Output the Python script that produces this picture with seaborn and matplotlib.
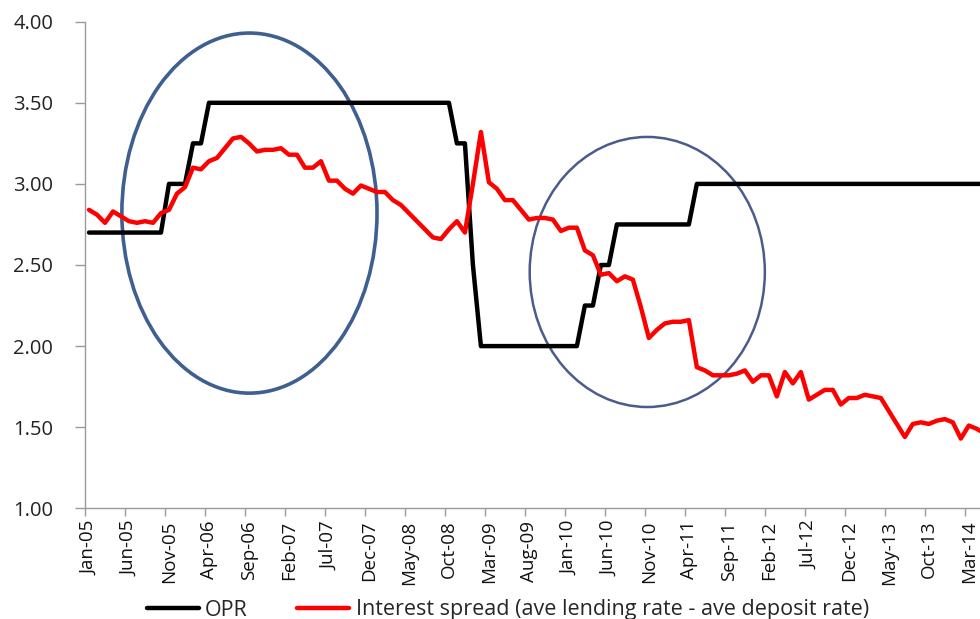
import numpy as np
import pandas as pd
import matplotlib
matplotlib.use('agg')
import matplotlib.pyplot as plt
from matplotlib.patches import Ellipse
import seaborn as sns

sns.set_style('white')
plt.rcParams['font.family'] = ['Open Sans', 'DejaVu Sans']

# monthly, Jan-05 .. May-14
months = pd.date_range('2005-01-01', '2014-05-01', freq='MS')

opr = [2.70, 2.70, 2.70, 2.70, 2.70, 2.70, 2.70, 2.70, 2.70, 2.70,
       3.00, 3.00, 3.00, 3.25, 3.25,
       3.50, 3.50, 3.50, 3.50, 3.50, 3.50, 3.50, 3.50, 3.50, 3.50,
       3.50, 3.50, 3.50, 3.50, 3.50, 3.50, 3.50, 3.50, 3.50, 3.50,
       3.50, 3.50, 3.50, 3.50, 3.50, 3.50, 3.50, 3.50, 3.50, 3.50, 3.50,
       3.25, 3.25, 2.50,
       2.00, 2.00, 2.00, 2.00, 2.00, 2.00, 2.00, 2.00, 2.00, 2.00, 2.00, 2.00, 2.00,
       2.25, 2.25, 2.50, 2.50,
       2.75, 2.75, 2.75, 2.75, 2.75, 2.75, 2.75, 2.75, 2.75, 2.75,
       3.00, 3.00, 3.00, 3.00, 3.00, 3.00, 3.00, 3.00, 3.00, 3.00,
       3.00, 3.00, 3.00, 3.00, 3.00, 3.00, 3.00, 3.00, 3.00, 3.00,
       3.00, 3.00, 3.00, 3.00, 3.00, 3.00, 3.00, 3.00, 3.00, 3.00,
       3.00, 3.00, 3.00, 3.00, 3.00, 3.00, 3.00]

spread = [2.84, 2.81, 2.76, 2.83, 2.80, 2.77, 2.76, 2.77, 2.76, 2.82,
          2.84, 2.94, 2.98, 3.10, 3.09, 3.14, 3.16, 3.22, 3.28, 3.29,
          3.25, 3.20, 3.21, 3.21, 3.22, 3.18, 3.18, 3.10, 3.10, 3.14,
          3.02, 3.02, 2.97, 2.94, 2.99, 2.97, 2.95, 2.95, 2.90, 2.87,
          2.82, 2.77, 2.72, 2.67, 2.66, 2.72, 2.77, 2.70, 3.00, 3.32,
          3.01, 2.97, 2.90, 2.90, 2.84, 2.78, 2.79, 2.79, 2.78, 2.71,
          2.73, 2.73, 2.59, 2.56, 2.44, 2.45, 2.40, 2.43, 2.41, 2.24,
          2.05, 2.10, 2.14, 2.15, 2.15, 2.16, 1.87, 1.85, 1.82, 1.82,
          1.82, 1.83, 1.85, 1.78, 1.82, 1.82, 1.69, 1.84, 1.77, 1.84,
          1.67, 1.70, 1.73, 1.73, 1.64, 1.68, 1.68, 1.70, 1.69, 1.68,
          1.60, 1.52, 1.44, 1.52, 1.53, 1.52, 1.54, 1.55, 1.53, 1.43,
          1.51, 1.49, 1.46]

y_ticks = [1.00, 1.50, 2.00, 2.50, 3.00, 3.50, 4.00]

df = pd.DataFrame({'idx': np.arange(len(months)), 'OPR': opr, 'spread': spread})

grey = '#9a9a9a'
fig = plt.figure(figsize=(9.8, 6.19), dpi=100)
ax = fig.add_axes([85 / 980, 1 - 508.3 / 619, 895 / 980, (508.3 - 21.7) / 619])

sns.lineplot(data=df, x='idx', y='OPR', color='black', lw=3.2, ax=ax, label='OPR')
sns.lineplot(data=df, x='idx', y='spread', color='#ff0000', lw=3.2, ax=ax,
             label='Interest spread (ave lending rate - ave deposit rate)')

# the two hand-drawn circles
ax.add_patch(Ellipse((20.06, 2.82), 31.9, 2.22, fill=False, edgecolor='#3E5F8F', lw=2.6, zorder=1))
ax.add_patch(Ellipse((69.8, 2.457), 29.4, 1.665, fill=False, edgecolor='#4A5C8C', lw=1.8, zorder=1))

ax.set_xlim(-0.5, 111.4)
ax.set_ylim(1.0, 4.0)
ax.set_yticks(y_ticks)
ax.set_yticklabels([f'{v:.2f}' for v in y_ticks], fontsize=14.5, color='#222222')
ax.set_xticks(df['idx'][::5])
ax.set_xticklabels(months[::5].strftime('%b-%y'), rotation=90, fontsize=13.5, color='#111111')
ax.set_xticks(np.arange(-0.5, len(months), 5), minor=True)
ax.set_xlabel('')
ax.set_ylabel('')

ax.tick_params(axis='x', which='major', bottom=True, length=0, pad=9)
ax.tick_params(axis='x', which='minor', bottom=True, length=6, color=grey, width=1)
ax.tick_params(axis='y', left=True, length=7, color=grey, width=1, pad=16)
sns.despine(ax=ax, top=True, right=True)
for s in ['left', 'bottom']:
    ax.spines[s].set_color(grey)
    ax.spines[s].set_linewidth(1)

handles, labels = ax.get_legend_handles_labels()
ax.get_legend().remove()
fig.legend(handles, labels, loc='center left', bbox_to_anchor=(147 / 980, 1 - 610 / 619),
           ncol=2, frameon=False, fontsize=15.5, handlelength=2.4, handletextpad=0.3,
           columnspacing=2.3, borderpad=0, borderaxespad=0)

fig.savefig('out.png', dpi=100)
